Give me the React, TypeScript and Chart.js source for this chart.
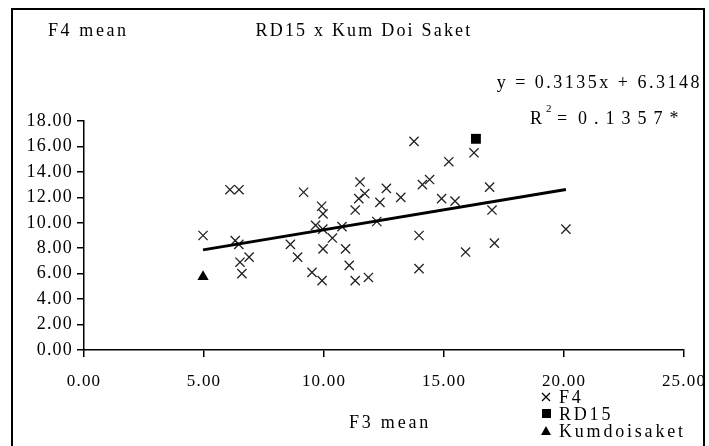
import React, { useEffect, useRef } from "react";
import { Chart, registerables } from "chart.js";

Chart.register(...registerables);

// ---- data ----
const f4X = [4.96, 6.08, 6.46, 6.3, 6.45, 6.5, 6.88, 6.58, 8.6, 8.9, 9.15, 9.9, 9.96, 9.65, 9.95, 10.35, 9.96, 9.5, 9.92, 10.75, 10.9, 11.05, 11.3, 11.85, 11.5, 11.7, 11.45, 11.3, 12.33, 12.6, 12.2, 13.2, 13.75, 13.96, 13.96, 14.4, 14.1, 15.2, 14.9, 15.46, 15.9, 16.25, 16.9, 17.0, 17.1, 20.08];
const f4Y = [9.0, 12.6, 12.6, 8.6, 8.3, 6.9, 7.3, 6.0, 8.3, 7.3, 12.4, 11.3, 10.7, 9.8, 9.5, 8.8, 7.95, 6.1, 5.45, 9.7, 7.95, 6.65, 5.45, 5.7, 13.2, 12.3, 11.9, 11.0, 11.6, 12.7, 10.1, 12.0, 16.4, 9.0, 6.4, 13.4, 13.0, 14.8, 11.9, 11.7, 7.7, 15.5, 12.8, 11.0, 8.4, 9.5];
const rd15X = [16.33];
const rd15Y = [16.6];
const kumX = [4.96];
const kumY = [5.75];
const slope = 0.3135;
const intercept = 6.3148;
const xTicks = [0, 5, 10, 15, 20, 25];
const yTicks = [0, 2, 4, 6, 8, 10, 12, 14, 16, 18];
const titleText = "RD15 x Kum Doi Saket";
const yTitle = "F4 mean";
const xTitle = "F3 mean";
const eqText = "y = 0.3135x + 6.3148";
const r2Label = "R";
const r2Sup = "2";
const r2Eq = "=";
const r2Value = "0.1357*";
const legendLabels = ["F4", "RD15", "Kumdoisaket"];

const FONT = "'Liberation Serif', 'Times New Roman', serif";

export default function App() {
  const ref = useRef<HTMLCanvasElement | null>(null);

  useEffect(() => {
    const canvas = ref.current;
    if (!canvas) return;
    const f4 = f4X.map((x, i) => ({ x, y: f4Y[i] }));
    const rd = rd15X.map((x, i) => ({ x, y: rd15Y[i] }));
    const kum = kumX.map((x, i) => ({ x, y: kumY[i] }));
    const xmin = Math.min(...f4X);
    const xmax = Math.max(...f4X);
    const trend = [
      { x: xmin, y: slope * xmin + intercept },
      { x: xmax, y: slope * xmax + intercept },
    ];

    const spacingPlugin = {
      id: "spacing",
      beforeDraw(chart: any) {
        (chart.ctx as any).letterSpacing = "1.2px";
      },
    };

    const textPlugin = {
      id: "texts",
      afterDraw(chart: any) {
        const ctx = chart.ctx as CanvasRenderingContext2D;
        ctx.save();
        // frame
        ctx.strokeStyle = "#000";
        ctx.lineWidth = 2;
        ctx.strokeRect(12, 9, 692, 450);
        ctx.fillStyle = "#000";
        ctx.textBaseline = "alphabetic";
        ctx.font = `18px ${FONT}`;
        (ctx as any).letterSpacing = "2.6px";
        ctx.textAlign = "left";
        ctx.fillText(yTitle, 48, 36);
        (ctx as any).letterSpacing = "2.2px";
        ctx.textAlign = "center";
        ctx.fillText(titleText, 364, 36);
        (ctx as any).letterSpacing = "2.5px";
        ctx.textAlign = "right";
        ctx.fillText(eqText, 702, 88);
        ctx.textAlign = "left";
        ctx.fillText(r2Label, 530, 124);
        ctx.font = `11px ${FONT}`;
        ctx.fillText(r2Sup, 546, 112);
        ctx.font = `18px ${FONT}`;
        ctx.fillText(r2Eq, 557, 124);
        (ctx as any).letterSpacing = "7px";
        ctx.fillText(r2Value, 578, 124);
        (ctx as any).letterSpacing = "2.8px";
        ctx.textAlign = "center";
        ctx.fillText(xTitle, 390, 428);
        // legend
        ctx.textAlign = "left";
        ctx.font = `18px ${FONT}`;
        (ctx as any).letterSpacing = "2.8px";
        const ys = [397, 414, 431];
        legendLabels.forEach((lab, i) => {
          ctx.fillText(lab, 559, ys[i] + 6);
        });
        const mx = 546;
        ctx.lineWidth = 1.2;
        ctx.beginPath();
        ctx.moveTo(mx - 4, ys[0] - 4);
        ctx.lineTo(mx + 4, ys[0] + 4);
        ctx.moveTo(mx + 4, ys[0] - 4);
        ctx.lineTo(mx - 4, ys[0] + 4);
        ctx.stroke();
        ctx.fillRect(mx - 4, ys[1] - 5, 9, 9);
        ctx.beginPath();
        ctx.moveTo(mx, ys[2] - 5);
        ctx.lineTo(mx + 5, ys[2] + 4);
        ctx.lineTo(mx - 5, ys[2] + 4);
        ctx.closePath();
        ctx.fill();
        ctx.restore();
      },
    };

    const chart = new Chart(canvas, {
      type: "scatter",
      data: {
        datasets: [
          {
            label: "Trend",
            type: "line",
            data: trend,
            borderColor: "#000",
            borderWidth: 3,
            pointRadius: 0,
            fill: false,
          } as any,
          {
            label: legendLabels[0],
            data: f4,
            pointStyle: "crossRot",
            pointRadius: 6.5,
            borderColor: "#222",
            borderWidth: 1.3,
            backgroundColor: "#222",
          },
          {
            label: legendLabels[1],
            data: rd,
            pointStyle: "rect",
            pointRadius: 7,
            borderWidth: 0,
            backgroundColor: "#000",
          },
          {
            label: legendLabels[2],
            data: kum,
            pointStyle: "triangle",
            pointRadius: 6.5,
            borderWidth: 0,
            backgroundColor: "#000",
          },
        ],
      },
      options: {
        responsive: false,
        animation: false,
        devicePixelRatio: 1,
        layout: { padding: { left: 14, right: 25, top: 121, bottom: 0 } },
        plugins: { legend: { display: false }, tooltip: { enabled: false }, title: { display: false } },
        scales: {
          x: {
            type: "linear",
            min: 0,
            max: 25,
            afterBuildTicks: (s: any) => {
              s.ticks = xTicks.map((v) => ({ value: v }));
            },
            afterFit: (s: any) => {
              s.height = 96;
              s.paddingLeft = 0;
              s.paddingRight = 0;
            },
            ticks: {
              color: "#000",
              font: { family: FONT, size: 17 },
              padding: 14,
              maxRotation: 0,
              autoSkip: false,
              callback: (v: any) => Number(v).toFixed(2),
            },
            grid: { display: true, drawOnChartArea: false, drawTicks: true, tickLength: 7, color: "#000", lineWidth: 1.5 },
            border: { display: true, color: "#000", width: 1.5 },
          },
          y: {
            type: "linear",
            min: 0,
            max: 18,
            afterBuildTicks: (s: any) => {
              s.ticks = yTicks.map((v) => ({ value: v }));
            },
            afterFit: (s: any) => {
              s.width = 70;
              s.paddingTop = 0;
              s.paddingBottom = 0;
            },
            ticks: {
              color: "#000",
              font: { family: FONT, size: 18 },
              padding: 4,
              autoSkip: false,
              callback: (v: any) => Number(v).toFixed(2),
            },
            grid: { display: true, drawOnChartArea: false, drawTicks: true, tickLength: 7, color: "#000", lineWidth: 1.5 },
            border: { display: true, color: "#000", width: 1.5 },
          },
        },
      },
      plugins: [spacingPlugin, textPlugin],
    } as any);
    return () => chart.destroy();
  }, []);

  return (
    <div style={{ position: "fixed", left: 0, top: 0, width: 709, height: 446, background: "#fff" }}>
      <canvas ref={ref} width={709} height={446} style={{ display: "block", width: 709, height: 446 }} />
    </div>
  );
}
